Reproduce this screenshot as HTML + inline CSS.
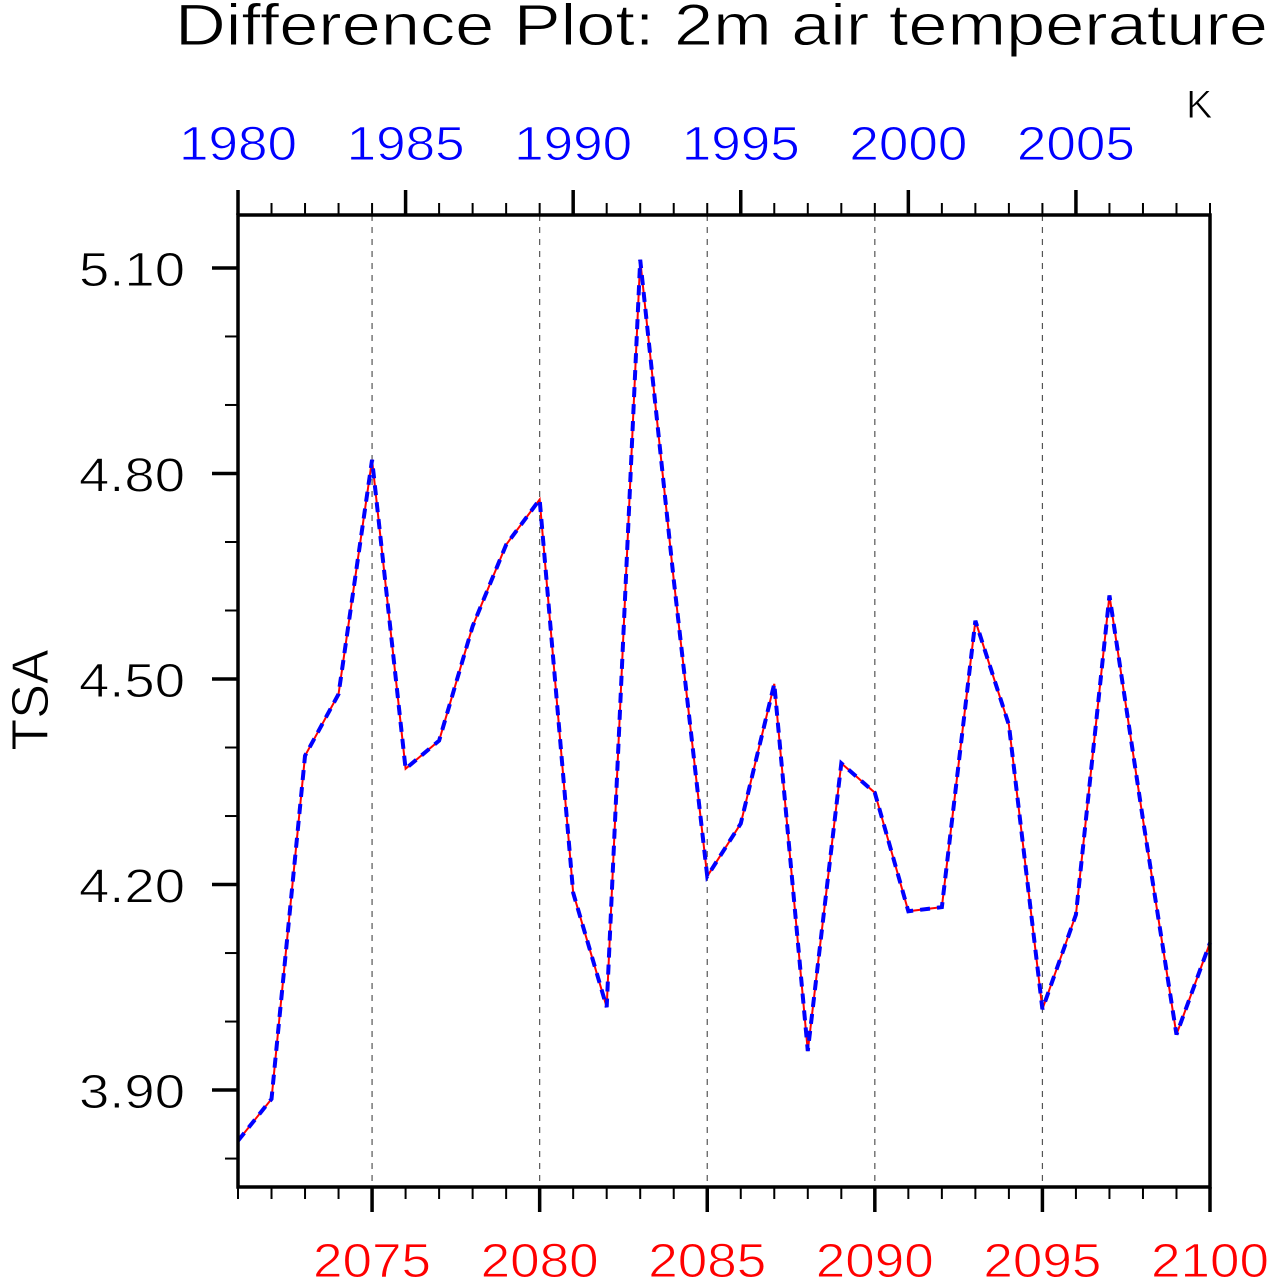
<!DOCTYPE html>
<html><head><meta charset="utf-8"><style>
html,body{margin:0;padding:0;background:#fff;}
svg{display:block;font-family:"Liberation Sans",sans-serif;}
svg text{stroke:#fff;stroke-width:0.9px;}
</style></head><body>
<svg id="chart" width="1270" height="1277" viewBox="0 0 1270 1277">
<text x="175" y="45" font-size="58" textLength="1093" lengthAdjust="spacingAndGlyphs" fill="#000">Difference Plot: 2m air temperature</text>
<text x="1186" y="118" font-size="40" fill="#000">K</text>
<text transform="translate(48,700) rotate(-90)" text-anchor="middle" font-size="52" fill="#000">TSA</text>
<g id="grid"></g><g id="ticks"></g><g id="lines"></g>
<rect x="238" y="215" width="972" height="972" fill="none" stroke="#000" stroke-width="3.5"/>
</svg>
<script>
const years=[2071,2072,2073,2074,2075,2076,2077,2078,2079,2080,2081,2082,2083,2084,2085,2086,2087,2088,2089,2090,2091,2092,2093,2094,2095,2096,2097,2098,2099,2100];
const tsaValues=[3.826,3.887,4.388,4.478,4.82,4.369,4.41,4.577,4.696,4.762,4.188,4.021,5.112,4.645,4.212,4.289,4.493,3.957,4.377,4.334,4.161,4.167,4.585,4.433,4.018,4.156,4.622,4.295,3.981,4.115];
const bottomTicks=[2075,2080,2085,2090,2095,2100];
const topTickLabels=[1980,1985,1990,1995,2000,2005];
const yTicks=[3.90,4.20,4.50,4.80,5.10];
const NS='http://www.w3.org/2000/svg';
const X0=238,X1=1210,Y0=215,Y1=1187;
const xMin=2071,xMax=2100,yMin=3.7585,yMax=5.1773;
const yearOffset=91;
function sx(v){return X0+(v-xMin)/(xMax-xMin)*(X1-X0);}
function sy(v){return Y1-(v-yMin)/(yMax-yMin)*(Y1-Y0);}
function mk(tag,attrs,parent){const e=document.createElementNS(NS,tag);for(const k in attrs)e.setAttribute(k,attrs[k]);parent.appendChild(e);return e;}
const grid=document.getElementById('grid'),ticks=document.getElementById('ticks'),lines=document.getElementById('lines');
bottomTicks.forEach(t=>{if(t>=xMax)return;
 const l=mk('line',{x1:sx(t),x2:sx(t),y1:Y0,y2:Y1,stroke:'#555','stroke-width':1.2,'stroke-dasharray':'6,6'},grid);
 
 });
for(let y=xMin;y<=xMax;y++){
 const majB=y%5===0, majT=(y-yearOffset)%5===0;
 const b=mk('line',{x1:sx(y),x2:sx(y),y1:Y1,y2:Y1+(majB?25:12),stroke:'#000','stroke-width':majB?3.5:2},ticks);
 
 
 const t=mk('line',{x1:sx(y),x2:sx(y),y1:Y0,y2:Y0-(majT?25:12),stroke:'#000','stroke-width':majT?3.5:2},ticks);
 
 
}
bottomTicks.forEach(t=>{
 const e=mk('text',{x:sx(t),y:1277,'text-anchor':'middle','font-size':48,fill:'#f00',textLength:118,lengthAdjust:'spacingAndGlyphs'},ticks);
 e.textContent=t;
 
 });
topTickLabels.forEach(t=>{
 const e=mk('text',{x:sx(t+yearOffset),y:160,'text-anchor':'middle','font-size':48,fill:'#00f',textLength:118,lengthAdjust:'spacingAndGlyphs'},ticks);
 e.textContent=t;
 
 });
for(let v=3.8;v<=5.15;v+=0.1){
 const maj=yTicks.some(t=>Math.abs(t-v)<1e-6);
 const l=mk('line',{x1:X0,x2:X0-(maj?26:13),y1:sy(v),y2:sy(v),stroke:'#000','stroke-width':maj?3.5:2},ticks);
 
 }
yTicks.forEach(v=>{
 const e=mk('text',{x:185,y:sy(v)+18,'text-anchor':'end','font-size':48,fill:'#000',textLength:106,lengthAdjust:'spacingAndGlyphs'},ticks);
 e.textContent=v.toFixed(2);
 
 });
const pts=years.map((y,i)=>sx(y)+','+sy(tsaValues[i])).join(' ');
const r=mk('polyline',{points:pts,fill:'none',stroke:'#f00','stroke-width':2},lines);


const b=mk('polyline',{points:pts,fill:'none',stroke:'#00f','stroke-width':4,'stroke-dasharray':'10,7'},lines);


</script>
</body></html>
